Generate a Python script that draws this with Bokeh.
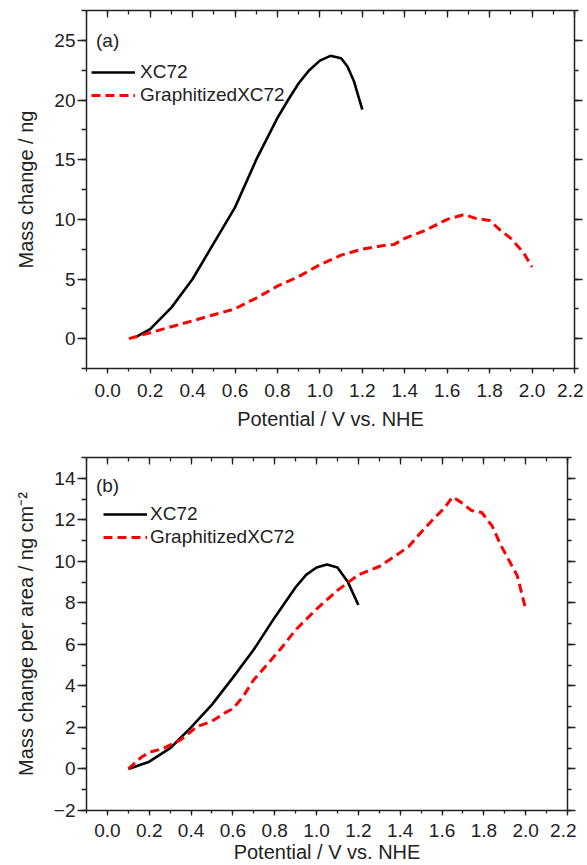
from bokeh.plotting import figure
from bokeh.layouts import column
from bokeh.models import (LinearAxis, SingleIntervalTicker, NumeralTickFormatter,
                          CustomJSTickFormatter, Legend, LegendItem, Label, Range1d)
from bokeh.embed import file_html
from bokeh.resources import INLINE

FONT = "Liberation Sans"

# ---- panel (a): mass change / ng ----
a_xc72_x = [0.13, 0.2, 0.3, 0.4, 0.5, 0.6, 0.7, 0.8, 0.85, 0.9, 0.95, 1.0, 1.05, 1.1, 1.13, 1.16, 1.2]
a_xc72_y = [0.1, 0.8, 2.6, 5.0, 8.0, 11.0, 15.0, 18.5, 20.0, 21.4, 22.5, 23.3, 23.7, 23.5, 22.8, 21.6, 19.2]
a_gx_x = [0.1, 0.2, 0.3, 0.4, 0.5, 0.6, 0.7, 0.8, 0.9, 1.0, 1.1, 1.2, 1.3, 1.35, 1.4, 1.5, 1.6,
          1.68, 1.73, 1.8, 1.85, 1.9, 1.96, 2.0]
a_gx_y = [0.0, 0.5, 1.0, 1.5, 2.0, 2.5, 3.4, 4.4, 5.2, 6.2, 7.0, 7.5, 7.8, 7.9, 8.4, 9.1, 10.0,
          10.4, 10.1, 9.9, 9.1, 8.4, 7.2, 6.0]

# ---- panel (b): mass change per area / ng cm-2 ----
b_xc72_x = [0.1, 0.2, 0.3, 0.4, 0.5, 0.6, 0.7, 0.8, 0.9, 0.95, 1.0, 1.05, 1.1, 1.15, 1.2]
b_xc72_y = [0.0, 0.35, 1.0, 2.0, 3.1, 4.4, 5.75, 7.3, 8.75, 9.35, 9.7, 9.85, 9.7, 9.0, 7.9]
b_gx_x = [0.1, 0.16, 0.2, 0.27, 0.35, 0.43, 0.5, 0.57, 0.6, 0.65, 0.7, 0.77, 0.83, 0.9, 1.0, 1.1,
          1.2, 1.3, 1.36, 1.44, 1.5, 1.56, 1.61, 1.65, 1.69, 1.74, 1.79, 1.84, 1.88, 1.92, 1.96, 2.0]
b_gx_y = [0.0, 0.55, 0.8, 1.0, 1.4, 2.05, 2.3, 2.75, 2.9, 3.5, 4.3, 5.1, 5.8, 6.7, 7.7, 8.6,
          9.35, 9.75, 10.15, 10.7, 11.4, 12.05, 12.55, 13.1, 12.85, 12.45, 12.35, 11.7, 10.8, 10.05, 9.3, 7.7]

series_labels = ["XC72", "GraphitizedXC72"]
x_label = "Potential / V vs. NHE"
y_label_a = "Mass change / ng"
y_label_b = "Mass change per area / ng cm\u207b\u00b2"

AX = "#222222"


def style_line(ax):
    ax.axis_line_color = AX
    ax.axis_line_width = 1.5
    ax.major_tick_line_color = AX
    ax.minor_tick_line_color = AX
    ax.major_tick_line_width = 1.3
    ax.minor_tick_line_width = 1.3


def make_panel(fw, fh, yr, yint, xs1, ys1, xs2, ys2, ylab, tag, tag_y, leg_loc, leg_spacing,
               leg_standoff, bt, bb, xtick_standoff, xlab_standoff):
    p = figure(frame_width=fw, frame_height=fh, x_range=Range1d(-0.1, 2.2), y_range=Range1d(*yr),
               output_backend="svg", toolbar_location=None,
               min_border_left=86, min_border_right=9, min_border_top=bt, min_border_bottom=bb)
    p.xgrid.visible = False
    p.ygrid.visible = False
    p.outline_line_color = None
    p.background_fill_color = "white"
    p.border_fill_color = "white"

    xt = SingleIntervalTicker(interval=0.2, num_minor_ticks=2)
    yt = SingleIntervalTicker(interval=yint, num_minor_ticks=2)

    bx = p.xaxis[0]
    bx.ticker = xt
    bx.formatter = NumeralTickFormatter(format="0.0")
    ly = p.yaxis[0]
    ly.ticker = yt

    for ax in (bx, ly):
        style_line(ax)
        ax.major_tick_in = 0
        ax.minor_tick_in = 0
        ax.major_label_text_font = FONT
        ax.major_label_text_font_size = "19px"
        ax.major_label_text_color = AX
        ax.axis_label_text_font = FONT
        ax.axis_label_text_font_size = "20px"
        ax.axis_label_text_font_style = "normal"
        ax.axis_label_text_color = AX
    bx.major_tick_out = 5
    bx.minor_tick_out = 3
    bx.major_label_standoff = xtick_standoff
    bx.axis_label = x_label
    bx.axis_label_standoff = xlab_standoff
    ly.major_tick_out = 9
    ly.minor_tick_out = 5
    ly.major_label_standoff = 2
    ly.axis_label = ylab
    ly.axis_label_standoff = 14

    blank = CustomJSTickFormatter(code="return ''")
    top = LinearAxis(ticker=xt, formatter=blank, major_label_standoff=0,
                     major_tick_out=0, minor_tick_out=0, major_tick_in=7, minor_tick_in=4)
    right = LinearAxis(ticker=yt, formatter=blank, major_label_standoff=0,
                       major_tick_out=8, minor_tick_out=4, major_tick_in=0, minor_tick_in=0)
    for ax in (top, right):
        style_line(ax)
    p.add_layout(top, "above")
    p.add_layout(right, "right")

    r1 = p.line(xs1, ys1, line_color="black", line_width=2.6)
    r2 = p.line(xs2, ys2, line_color="#ff0000", line_width=3, line_dash="9 5")

    leg = Legend(items=[LegendItem(label=series_labels[0], renderers=[r1]),
                        LegendItem(label=series_labels[1], renderers=[r2])],
                 location=leg_loc, padding=0, margin=0, spacing=leg_spacing,
                 glyph_width=44, glyph_height=20, label_standoff=leg_standoff,
                 label_text_font=FONT, label_text_font_size="19px", label_text_color=AX,
                 border_line_alpha=0, background_fill_alpha=0)
    p.add_layout(leg)

    p.add_layout(Label(x=-0.055, y=tag_y, text=tag, text_font=FONT, text_font_size="19px",
                       text_color=AX, text_baseline="middle", text_align="left"))
    return p


pa = make_panel(488, 358, (-2.5, 27.5), 5, a_xc72_x, a_xc72_y, a_gx_x, a_gx_y, y_label_a,
                "(a)", 25, (5, 262), 1, 5, 10, 62, 10, 8)
pb = make_panel(481, 353, (-2, 15), 2, b_xc72_x, b_xc72_y, b_gx_x, b_gx_y, y_label_b,
                "(b)", 13.65, (17, 262), 1, 3, 25, 50, 8, 1)

layout = column(pa, pb, spacing=0)
open("out.html", "w").write(file_html(layout, INLINE))
